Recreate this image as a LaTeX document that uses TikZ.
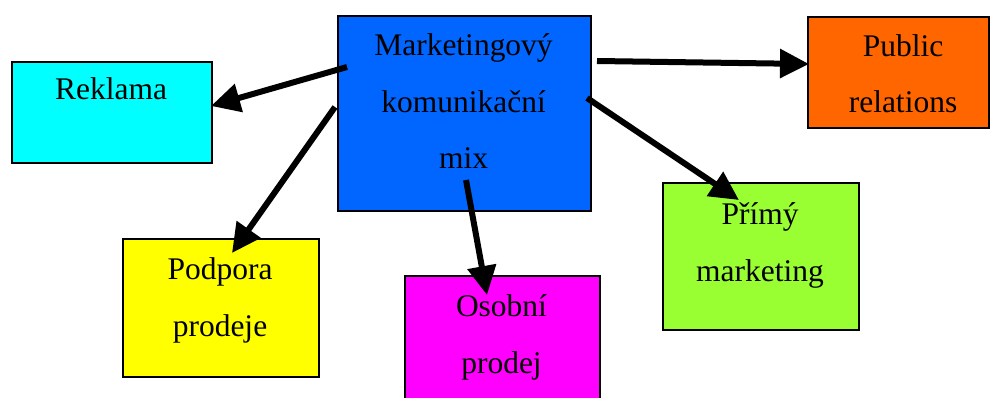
\documentclass[tikz,border=0pt]{standalone}
\usepackage{fontspec}
\setmainfont{Liberation Serif}
\usetikzlibrary{arrows.meta}
\definecolor{mixblue}{HTML}{0066FF}
\definecolor{rekcyan}{HTML}{00FFFF}
\definecolor{prorange}{HTML}{FF6600}
\definecolor{pmgreen}{HTML}{99FF33}
\definecolor{ppyellow}{HTML}{FFFF00}
\definecolor{opmagenta}{HTML}{FF00FF}
\tikzset{
  box/.style={draw=black, line width=2pt, rectangle, inner sep=0pt, anchor=north west},
  % base anchor of a multi-line label sits on its last line
  lbl/.style={inner sep=0pt, anchor=base, align=center,
    font=\fontsize{31.5pt}{56.5pt}\selectfont},
  conn/.style={line width=6pt, -{Triangle[length=29pt, width=28pt]}},
}
\begin{document}
\begin{tikzpicture}[x=1pt, y=-1pt]
  \useasboundingbox (0,0) rectangle (991,398);
  \clip (0,0) rectangle (991,398);

  % boxes
  \node[box, fill=mixblue,   minimum width=253pt, minimum height=195pt] (mix) at (337,15) {};
  \node[box, fill=rekcyan,   minimum width=200pt, minimum height=101pt] (rek) at (11,61) {};
  \node[box, fill=prorange,  minimum width=181pt, minimum height=111pt] (pr)  at (807,16) {};
  \node[box, fill=pmgreen,   minimum width=196pt, minimum height=147pt] (pm)  at (662,182) {};
  \node[box, fill=ppyellow,  minimum width=196pt, minimum height=138pt] (pp)  at (122,238) {};
  \node[box, fill=opmagenta, minimum width=195pt, minimum height=160pt] (op)  at (404,275) {};

  % labels (positioned on the baseline of their last line)
  \node[lbl] (mix-t) at (463.5,169) {Marketingový\\komunikační\\mix};
  \node[lbl] (rek-t) at (111,100) {Reklama};
  \node[lbl] (pr-t)  at (903,113) {Public\\relations};
  \node[lbl] (pm-t)  at (760,281) {Přímý\\marketing};
  \node[lbl] (pp-t)  at (220,336) {Podpora\\prodeje};
  \node[lbl] (op-t)  at (501.5,373) {Osobní\\prodej};

  % connector ends
  \coordinate (s-rek) at (347,67);
  \coordinate (e-rek) at (211,106);
  \coordinate (s-pp)  at (335,107);
  \coordinate (e-pp)  at (232,253);
  \coordinate (s-op)  at (466,180);
  \coordinate (e-op)  at (487,295);
  \coordinate (s-pm)  at (587,98);
  \coordinate (e-pm)  at (739,200);
  \coordinate (s-pr)  at (597,61);
  \coordinate (e-pr)  at (809,64);

  % connectors
  \draw[conn] (s-rek) -- (e-rek);
  \draw[conn] (s-pp)  -- (e-pp);
  \draw[conn] (s-op)  -- (e-op);
  \draw[conn] (s-pm)  -- (e-pm);
  \draw[conn] (s-pr)  -- (e-pr);
\end{tikzpicture}
\end{document}
